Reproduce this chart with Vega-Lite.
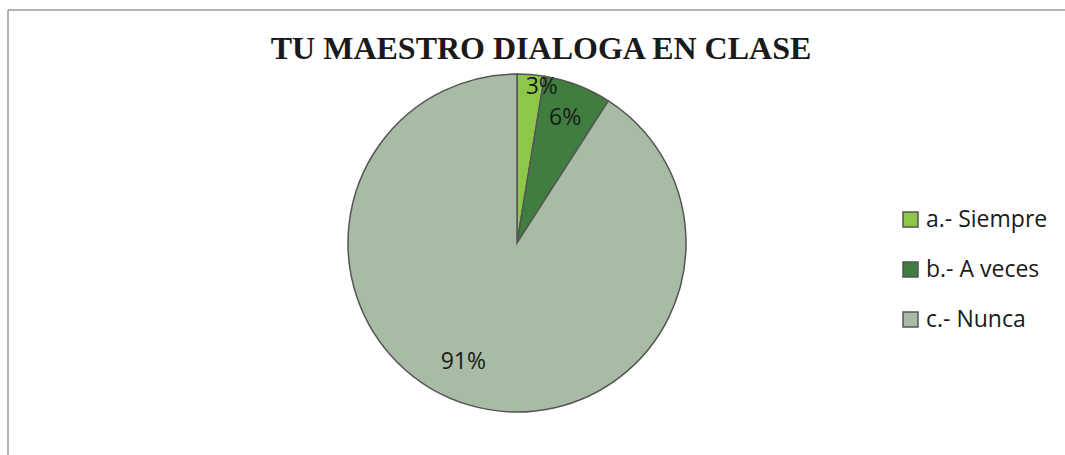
{
  "$schema": "https://vega.github.io/schema/vega-lite/v6.json",
  "width": 1057,
  "height": 445,
  "autosize": "none",
  "padding": {"left": 8, "top": 10, "right": 0, "bottom": 0},
  "background": "white",
  "data": {
    "values": [
      {"categoria": "a.- Siempre", "valor": 2, "etiqueta": "3%"},
      {"categoria": "b.- A veces", "valor": 5, "etiqueta": "6%"},
      {"categoria": "c.- Nunca", "valor": 70, "etiqueta": "91%"}
    ]
  },
  "layer": [
    {
      "data": {"values": [{"marco": "superior"}]},
      "mark": {"type": "rect", "x": 600, "y": 0, "width": 1200, "height": 1.5, "fill": "#9a9a9a", "stroke": null},
      "encoding": {}
    },
    {
      "data": {"values": [{"marco": "izquierdo"}]},
      "mark": {"type": "rect", "x": 0, "y": 300, "width": 1.5, "height": 600, "fill": "#9a9a9a", "stroke": null},
      "encoding": {}
    },
    {
      "data": {"values": [{"titulo": "TU MAESTRO DIALOGA EN CLASE"}]},
      "mark": {"type": "text", "x": 533, "y": 49, "font": "Liberation Serif", "fontSize": 32, "fontWeight": "bold", "color": "#1a1a1a", "align": "center", "baseline": "alphabetic"},
      "encoding": {"text": {"field": "titulo"}}
    },
    {
      "mark": {"type": "arc", "radius": 169, "x": 509, "y": 233, "stroke": "#555555", "strokeWidth": 1.5},
      "encoding": {
        "theta": {"field": "valor", "type": "quantitative", "stack": true},
        "order": {"field": "categoria", "type": "nominal"},
        "color": {
          "field": "categoria",
          "type": "nominal",
          "scale": {"domain": ["a.- Siempre", "b.- A veces", "c.- Nunca"], "range": ["#8DC74A", "#3F7E3F", "#A8BBA4"]},
          "legend": {
            "title": null,
            "orient": "none",
            "legendX": 891,
            "legendY": 198,
            "symbolType": "square",
            "symbolSize": 225,
            "symbolStrokeColor": "#555555",
            "symbolStrokeWidth": 1.5,
            "rowPadding": 26,
            "labelFont": "Open Sans",
            "labelFontSize": 23,
            "labelColor": "#1a1a1a",
            "labelOffset": 4,
            "labelLimit": 250
          }
        }
      }
    },
    {
      "mark": {"type": "text", "radius": 157, "x": 509, "y": 233, "font": "Open Sans", "fontSize": 23, "color": "#1a1a1a", "baseline": "middle", "align": "center", "dx": 12},
      "encoding": {
        "theta": {"field": "valor", "type": "quantitative", "stack": true},
        "order": {"field": "categoria", "type": "nominal"},
        "text": {"condition": {"test": "datum.categoria === 'a.- Siempre'", "field": "etiqueta"}, "value": ""}
      }
    },
    {
      "mark": {"type": "text", "radius": 134, "x": 509, "y": 233, "font": "Open Sans", "fontSize": 23, "color": "#1a1a1a", "baseline": "middle", "align": "center"},
      "encoding": {
        "theta": {"field": "valor", "type": "quantitative", "stack": true},
        "order": {"field": "categoria", "type": "nominal"},
        "text": {"condition": {"test": "datum.categoria === 'b.- A veces'", "field": "etiqueta"}, "value": ""}
      }
    },
    {
      "mark": {"type": "text", "radius": 130, "x": 509, "y": 233, "font": "Open Sans", "fontSize": 23, "color": "#1a1a1a", "baseline": "middle", "align": "center", "dx": -17, "dy": -6},
      "encoding": {
        "theta": {"field": "valor", "type": "quantitative", "stack": true},
        "order": {"field": "categoria", "type": "nominal"},
        "text": {"condition": {"test": "datum.categoria === 'c.- Nunca'", "field": "etiqueta"}, "value": ""}
      }
    }
  ],
  "config": {
    "view": {"stroke": null}
  }
}
